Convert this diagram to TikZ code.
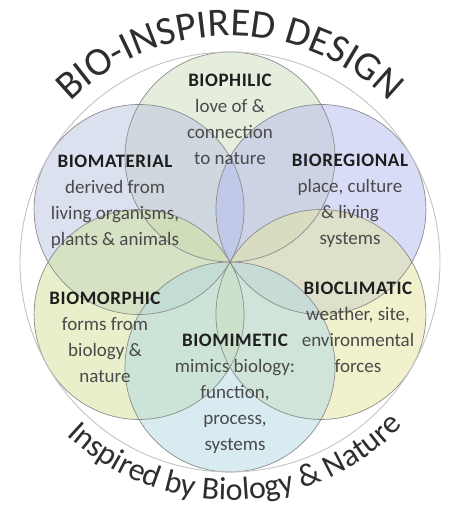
\documentclass[tikz,border=0pt]{standalone}
\usepackage{fontspec}
\setmainfont{Carlito}
\usetikzlibrary{decorations.text}
\definecolor{philc}{HTML}{CDDDBB}
\definecolor{matc}{HTML}{BBC5E3}
\definecolor{regc}{HTML}{B3BBEF}
\definecolor{climc}{HTML}{E5E59F}
\definecolor{morphc}{HTML}{D1E399}
\definecolor{mimc}{HTML}{B3D9E5}
\definecolor{petalline}{HTML}{8C8C8C}
\definecolor{ringline}{HTML}{C4C4C4}
\definecolor{headgrey}{HTML}{1E1E1E}
\definecolor{bodygrey}{HTML}{4A4A4A}
\definecolor{titlegrey}{HTML}{2E2E2E}
\newcommand\bioblock[2]{\begin{tabular}[t]{@{}c@{}}{\bfseries\addfontfeature{LetterSpace=3}\color{headgrey}#1}\\#2\end{tabular}}
\begin{document}
\begin{tikzpicture}[x=1pt,y=1pt,
  petalfill/.style={fill=#1, fill opacity=0.5},
  petaledge/.style={draw=petalline, line width=0.7pt},
  ringedge/.style={draw=ringline, line width=0.9pt},
  biotxt/.style={inner sep=0pt, anchor=base, text=bodygrey, font=\fontsize{19}{26}\selectfont},
  arctext/.style={decorate, decoration={text along path, text align=center, text color=titlegrey,
     text format delimiters={|}{|}, text={#1}}}
]
\useasboundingbox[fill=white] (0,0) rectangle (449,506);
\coordinate (C) at (230,244);
% fills
\path[petalfill=philc]  (C) ++(90:105)  circle[radius=105];
\path[petalfill=matc]   (C) ++(150:105) circle[radius=105];
\path[petalfill=regc]   (C) ++(30:105)  circle[radius=105];
\path[petalfill=morphc] (C) ++(210:105) circle[radius=105];
\path[petalfill=climc]  (C) ++(330:105) circle[radius=105];
\path[petalfill=mimc]   (C) ++(270:105) circle[radius=105];
% outlines
\foreach \a in {90,150,30,210,330,270}
  \draw[petaledge] (C) ++(\a:105) circle[radius=105];
\draw[ringedge] (C) circle[radius=210];
% texts
\node[biotxt] (phil) at (230,419) {\bioblock{BIOPHILIC}{love of \&\\connection\\to nature}};
\node[biotxt] (mat) at (115,338) {\bioblock{BIOMATERIAL}{derived from\\living organisms,\\plants \& animals}};
\node[biotxt] (reg) at (350,339) {\bioblock{BIOREGIONAL}{place, culture\\\& living\\systems}};
\node[biotxt] (morph) at (105,201) {\bioblock{BIOMORPHIC}{forms from\\biology \&\\nature}};
\node[biotxt] (clim) at (358,211) {\bioblock{BIOCLIMATIC}{weather, site,\\environmental\\forces}};
\node[biotxt] (mim) at (235,159) {\bioblock{BIOMIMETIC}{mimics biology:\\function,\\process,\\systems}};
% arc titles
\path[arctext={|\fontsize{40}{40}\selectfont|BIO-INSPIRED DESIGN}] (C) ++(160:226) arc[start angle=160, end angle=20, radius=226];
\path[arctext={|\fontsize{32}{32}\selectfont|Inspired by Biology {\&} Nature}] (C) ++(201.6:238) arc[start angle=201.6, end angle=341.6, radius=238];
\end{tikzpicture}
\end{document}
